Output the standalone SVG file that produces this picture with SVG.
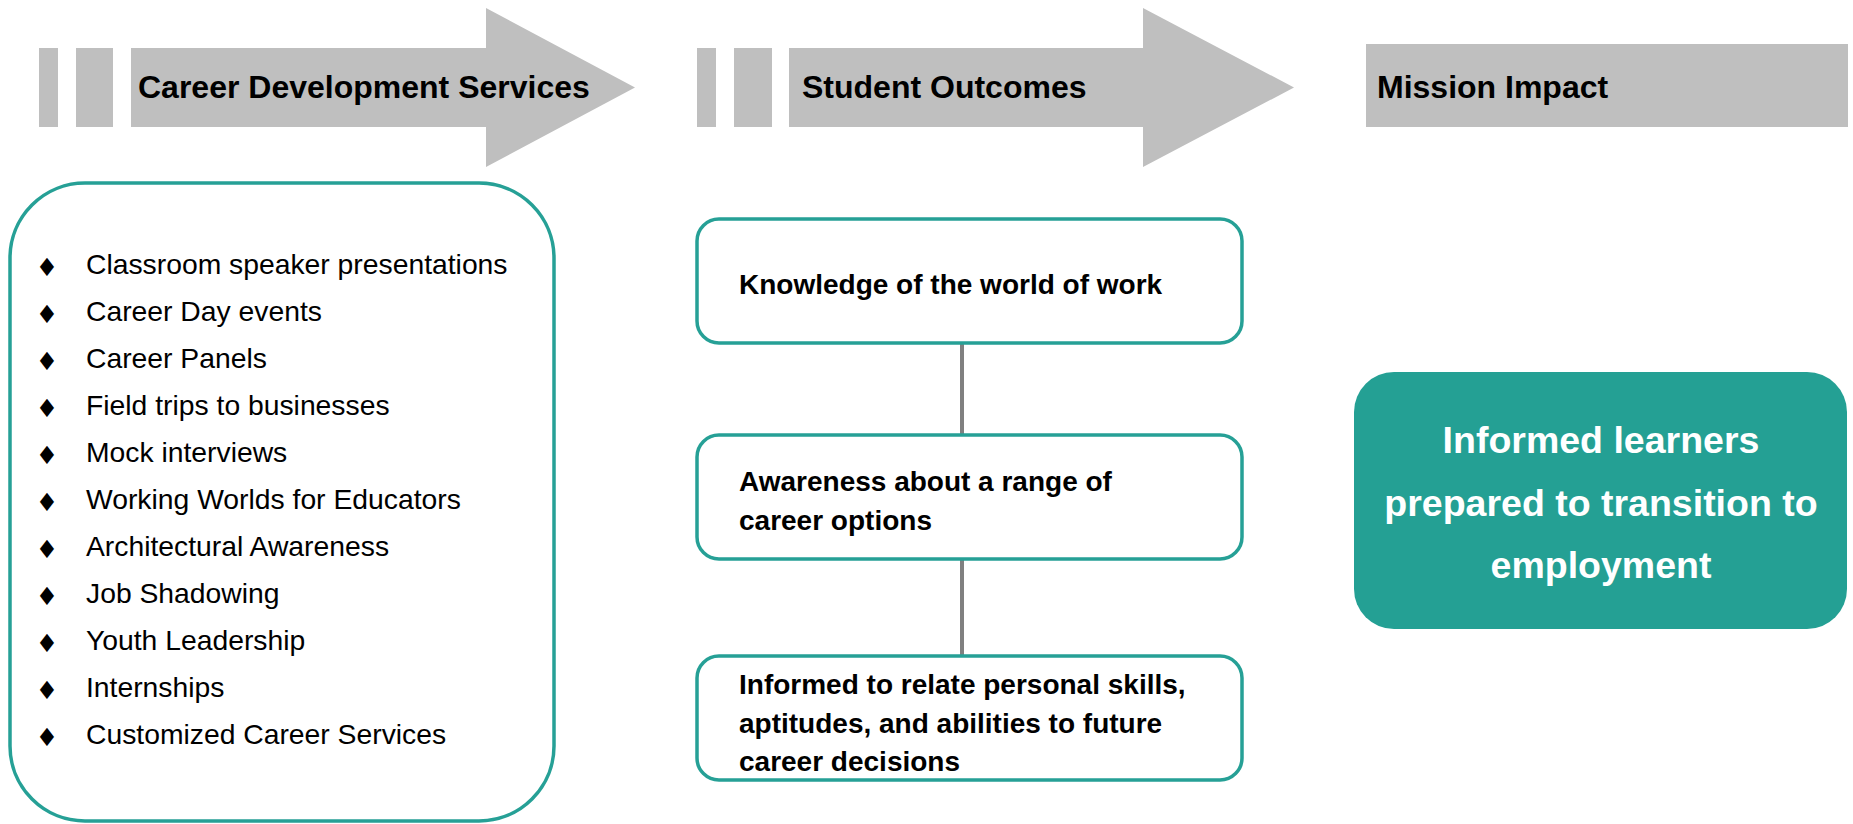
<svg xmlns="http://www.w3.org/2000/svg" width="1853" height="824" viewBox="0 0 1853 824">
<style>
.bar{fill:#BFBFBF}
.hdr{font-family:"Liberation Sans",Arial,sans-serif;font-weight:bold;font-size:32px;fill:#000}
.item{font-family:"Liberation Sans",Arial,sans-serif;font-size:28.3px;fill:#000}
.bul{font-family:"DejaVu Sans",sans-serif;font-size:25px;fill:#000;text-anchor:middle}
.box{fill:#fff;stroke:#26A096;stroke-width:3.5}
.otx{font-family:"Liberation Sans",Arial,sans-serif;font-weight:bold;font-size:28px;fill:#000}
.imp{font-family:"Liberation Sans",Arial,sans-serif;font-weight:bold;font-size:37.5px;fill:#fff;text-anchor:middle}
.con{stroke:#808080;stroke-width:4;fill:none}
</style>
<rect width="1853" height="824" fill="#fff"/>
<g id="header-services">
<rect class="bar" x="39" y="48" width="19" height="79"/>
<rect class="bar" x="76" y="48" width="37" height="79"/>
<path class="bar" d="M131,48 H486 V8 L635,87.5 L486,167 V127 H131 Z"/>
<text class="hdr" x="138" y="98">Career Development Services</text>
</g>
<g id="header-outcomes">
<rect class="bar" x="697" y="48" width="19" height="79"/>
<rect class="bar" x="734" y="48" width="38" height="79"/>
<path class="bar" d="M789,48 H1143 V8 L1294,87.5 L1143,167 V127 H789 Z"/>
<text class="hdr" x="802" y="98">Student Outcomes</text>
</g>
<g id="header-impact">
<rect class="bar" x="1366" y="44" width="482" height="83"/>
<text class="hdr" x="1377" y="98">Mission Impact</text>
</g>
<g id="services-list">
<rect class="box" x="10" y="183" width="544" height="638" rx="75" ry="75"/>
<g class="bul">
<text x="47" y="276">♦</text>
<text x="47" y="323">♦</text>
<text x="47" y="370">♦</text>
<text x="47" y="417">♦</text>
<text x="47" y="464">♦</text>
<text x="47" y="511">♦</text>
<text x="47" y="558">♦</text>
<text x="47" y="605">♦</text>
<text x="47" y="652">♦</text>
<text x="47" y="699">♦</text>
<text x="47" y="746">♦</text>
</g>
<g class="item">
<text x="86" y="274">Classroom speaker presentations</text>
<text x="86" y="321">Career Day events</text>
<text x="86" y="368">Career Panels</text>
<text x="86" y="415">Field trips to businesses</text>
<text x="86" y="462">Mock interviews</text>
<text x="86" y="509">Working Worlds for Educators</text>
<text x="86" y="556">Architectural Awareness</text>
<text x="86" y="603">Job Shadowing</text>
<text x="86" y="650">Youth Leadership</text>
<text x="86" y="697">Internships</text>
<text x="86" y="744">Customized Career Services</text>
</g>
</g>
<g id="connectors">
<line class="con" x1="962" y1="343" x2="962" y2="435"/>
<line class="con" x1="962" y1="559" x2="962" y2="656"/>
</g>
<g id="outcome-knowledge">
<rect class="box" x="697" y="219" width="545" height="124" rx="22" ry="22"/>
<text class="otx" x="739" y="294">Knowledge of the world of work</text>
</g>
<g id="outcome-awareness">
<rect class="box" x="697" y="435" width="545" height="124" rx="22" ry="22"/>
<text class="otx" x="739" y="491">Awareness about a range of</text>
<text class="otx" x="739" y="530">career options</text>
</g>
<g id="outcome-informed">
<rect class="box" x="697" y="656" width="545" height="124" rx="22" ry="22"/>
<text class="otx" x="739" y="694">Informed to relate personal skills,</text>
<text class="otx" x="739" y="733">aptitudes, and abilities to future</text>
<text class="otx" x="739" y="771">career decisions</text>
</g>
<g id="impact">
<rect x="1354" y="372" width="493" height="257" rx="40" ry="40" fill="#24A094"/>
<text class="imp" x="1601" y="453">Informed learners</text>
<text class="imp" x="1601" y="516">prepared to transition to</text>
<text class="imp" x="1601" y="578">employment</text>
</g>
</svg>
